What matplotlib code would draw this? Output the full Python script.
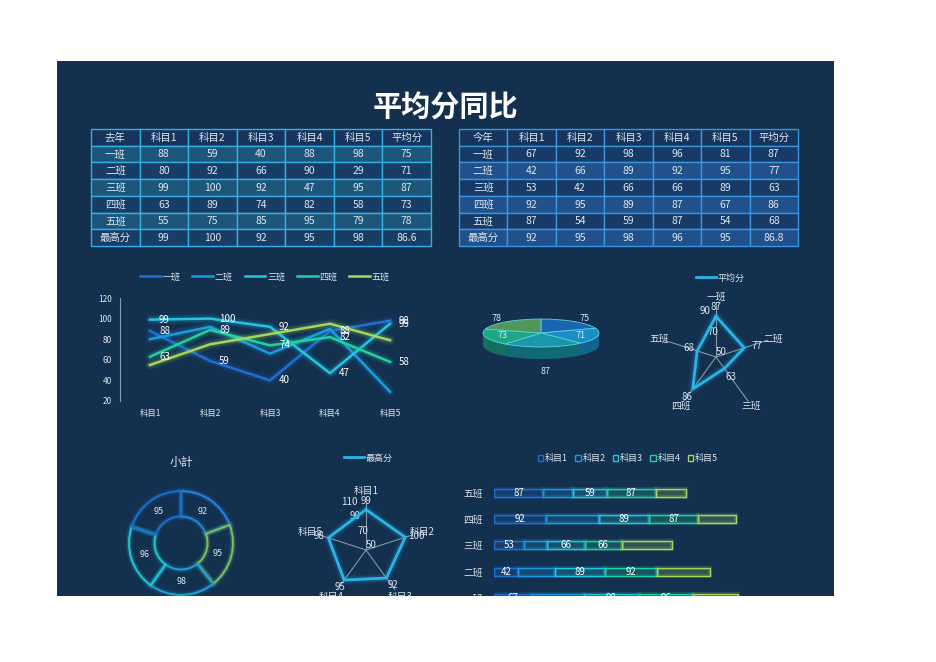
import numpy as np
import matplotlib
matplotlib.use('Agg')
import matplotlib.pyplot as plt
from matplotlib.patches import Rectangle, Patch
from matplotlib.lines import Line2D

plt.rcParams['font.family'] = ['Noto Sans CJK SC', 'DejaVu Sans']

# ---- data ----
classes = ['一班', '二班', '三班', '四班', '五班']
subjects = ['科目1', '科目2', '科目3', '科目4', '科目5']

last_year = [[88, 59, 40, 88, 98],
             [80, 92, 66, 90, 29],
             [99, 100, 92, 47, 95],
             [63, 89, 74, 82, 58],
             [55, 75, 85, 95, 79]]
last_avg = [75, 71, 87, 73, 78]
last_max = [99, 100, 92, 95, 98]
last_max_avg = '86.6'

this_year = [[67, 92, 98, 96, 81],
             [42, 66, 89, 92, 95],
             [53, 42, 66, 66, 89],
             [92, 95, 89, 87, 67],
             [87, 54, 59, 87, 54]]
this_avg = [87, 77, 63, 86, 68]
this_max = [92, 95, 98, 96, 95]
this_max_avg = '86.8'

# ---- style ----
W, H = 936, 662
NAVY = '#13304f'
TXT = '#dce6f0'
series_colors = ['#1f6fd0', '#1a9be0', '#22c6e0', '#22d0a0', '#a2d860']


def box(x0, y0, x1, y1):
    return [x0 / W, 1 - y1 / H, (x1 - x0) / W, (y1 - y0) / H]


def fxy(x, y):
    return (x / W, 1 - y / H)


fig = plt.figure(figsize=(W / 100, H / 100), dpi=100, facecolor='white')
fig.add_artist(Rectangle(fxy(57, 596), (834 - 57) / W, (596 - 61) / H,
                         transform=fig.transFigure, facecolor=NAVY, lw=0, zorder=-10))
fig.text(*fxy(445, 108), '平均分同比', fontsize=21, weight='bold', color='white',
         ha='center', va='center')


# ---- tables ----
def draw_table(x0, x1, corner, values, avg, top, top_avg, fills, edge):
    ax = fig.add_axes(box(x0, 129, x1, 246))
    ax.set_xlim(0, 7)
    ax.set_ylim(7, 0)
    ax.axis('off')
    header = [corner] + subjects + ['平均分']
    body = [[c] + [str(v) for v in row] + [str(a)] for c, row, a in zip(classes, values, avg)]
    body.append(['最高分'] + [str(v) for v in top] + [top_avg])
    for i, row in enumerate([header] + body):
        for j, txt in enumerate(row):
            ax.add_patch(Rectangle((j, i), 1, 1, facecolor=fills[i], edgecolor=edge,
                                   lw=1, clip_on=False))
            ax.text(j + 0.5, i + 0.52, txt, ha='center', va='center', fontsize=7.5, color=TXT)


draw_table(91, 431, '去年', last_year, last_avg, last_max, last_max_avg,
           ['#16345c', '#1d5679', '#183e66', '#1d5679', '#183e66', '#1d5679', '#183e66'], '#35aee6')
draw_table(459, 798, '今年', this_year, this_avg, this_max, this_max_avg,
           ['#16345c', '#183a66', '#22508a', '#183a66', '#22508a', '#183a66', '#22508a'], '#3a95e0')


def glow_plot(ax, x, y, color, lw=1.8, **kw):
    for w, a in [(7, 0.08), (4.5, 0.15)]:
        ax.plot(x, y, color=color, lw=w, alpha=a, solid_capstyle='round', solid_joinstyle='round')
    return ax.plot(x, y, color=color, lw=lw, **kw)


# ---- line chart ----
ax = fig.add_axes(box(120, 298, 420, 401))
ax.set_facecolor('none')
xs = np.arange(len(subjects))
for name, row, c in zip(classes, last_year, series_colors):
    glow_plot(ax, xs, row, c, label=name)
for idx in (0, 2, 3):
    for xi, v in zip(xs, last_year[idx]):
        ax.text(xi + 0.15, v, str(v), va='center', fontsize=7, color='white')
ax.set_xlim(-0.5, 4.5)
ax.set_ylim(20, 120)
ax.set_yticks(range(20, 121, 20))
ax.set_xticks(xs)
ax.set_xticklabels(subjects)
ax.tick_params(length=0, labelsize=6, colors=TXT, pad=6)
for s in ['top', 'right', 'bottom']:
    ax.spines[s].set_visible(False)
ax.spines['left'].set_color('#8a9ab0')
ax.spines['left'].set_linewidth(0.8)
handles = [Line2D([], [], color=c, lw=1.8) for c in series_colors]
ax.legend(handles, classes, loc='center', bbox_to_anchor=fxy(265, 277),
          bbox_transform=fig.transFigure, ncol=5, frameon=False, fontsize=6.5,
          labelcolor=TXT, handlelength=2.3, handletextpad=0.2, columnspacing=1.3)

# ---- 3D-ish pie ----
ax = fig.add_axes(box(483, 319, 599, 361))
ax.set_facecolor('none')
pie_top = ['#1a66b2', '#1b8ec8', '#1898a8', '#1fa684', '#4f985a']
pie_side = ['#134a82', '#12648c', '#106a76', '#13705c', '#34663e']
depth = 0.86
for k in np.linspace(-depth, -0.05, 14):
    ax.pie(last_avg, center=(0, k), startangle=90, counterclock=False, colors=pie_side,
           wedgeprops=dict(linewidth=0))
wedges, _ = ax.pie(last_avg, center=(0, 0), startangle=90, counterclock=False, colors=pie_top,
                   wedgeprops=dict(linewidth=0.6, edgecolor='#5fd0e0'))
ax.set_aspect('auto')
ax.set_xlim(-1, 1)
ax.set_ylim(-2.0, 1.0)
dist = [1.3, 0.7, 1.9, 0.7, 1.3]
for w, v, r in zip(wedges, last_avg, dist):
    ang = np.deg2rad((w.theta1 + w.theta2) / 2)
    x, y = r * np.cos(ang), r * np.sin(ang)
    if r > 1 and y < 0:
        y -= depth
    ax.text(x, y, str(v), ha='center', va='center', fontsize=6.5, color=TXT, clip_on=False)


# ---- radar helper ----
def radar(bx, values, labels, rmax, rticks, rlabel_pos, label_pad, offsets, legend_label, legend_xy):
    ax = fig.add_axes(bx, projection='polar')
    ax.set_facecolor('none')
    ax.set_theta_zero_location('N')
    ax.set_theta_direction(-1)
    th = np.linspace(0, 2 * np.pi, len(values), endpoint=False)
    tc = np.append(th, th[0])
    vc = np.append(values, values[0])
    glow_plot(ax, tc, vc, '#2ab4e8', lw=2)
    ax.set_ylim(50, rmax)
    ax.set_xticks(th)
    ax.set_xticklabels(labels, fontsize=7, color=TXT)
    ax.tick_params(axis='x', pad=label_pad)
    ax.set_rticks(rticks)
    ax.set_yticklabels([str(t) for t in rticks], fontsize=7, color=TXT)
    ax.set_rlabel_position(rlabel_pos)
    ax.yaxis.grid(False)
    ax.xaxis.grid(True, color='#8a96a6', lw=0.8)
    ax.spines['polar'].set_visible(False)
    for t, v, off in zip(th, values, offsets):
        ax.annotate(str(v), (t, v), xytext=off, textcoords='offset points',
                    ha='center', va='center', fontsize=7, color=TXT)
    ax.legend([Line2D([], [], color='#2ab4e8', lw=2)], [legend_label], loc='center',
              bbox_to_anchor=fxy(*legend_xy), bbox_transform=fig.transFigure,
              frameon=False, fontsize=6.5, labelcolor=TXT, handlelength=2.2, handletextpad=0.2)


radar(box(661, 302, 771, 412), this_avg, classes, 100, [50, 70, 90], -22, -7,
      [(0, 7), (9, 1), (5, -6), (-4, -6), (-6, 2)], '平均分', (720, 278))
radar(box(316.5, 500.5, 415.5, 599.5), last_max, subjects, 110, [50, 70, 90, 110], -30, -4,
      [(0, 6), (8, 1), (5, -5), (-3, -5), (-7, 1)], '最高分', (368, 458))

# ---- donut ----
ax = fig.add_axes(box(128, 490, 234, 596))
ax.set_facecolor('none')
ring_colors = ['#2a80d8', '#78c060', '#1f9fd0', '#22c4d0', '#1a6fc8']
for lw, a in [(5, 0.12), (3, 0.2)]:
    glow, _ = ax.pie(this_max, startangle=90, counterclock=False, colors=['none'] * 5,
                     wedgeprops=dict(width=0.49, linewidth=lw, alpha=a))
    for w, c in zip(glow, ring_colors):
        w.set_edgecolor(c)
        w.set_facecolor('none')
ring, _ = ax.pie(this_max, startangle=90, counterclock=False, colors=['none'] * 5,
                 wedgeprops=dict(width=0.49, linewidth=1.4))
for w, c in zip(ring, ring_colors):
    w.set_edgecolor(c)
    w.set_facecolor('none')
ax.set_xlim(-1.02, 1.02)
ax.set_ylim(-1.02, 1.02)
ax.set_aspect('equal')
for w, v in zip(ring, this_max):
    ang = np.deg2rad((w.theta1 + w.theta2) / 2)
    ax.text(0.74 * np.cos(ang), 0.74 * np.sin(ang), str(v), ha='center', va='center',
            fontsize=6.5, color=TXT)
fig.text(*fxy(181, 462), '小計', fontsize=8.5, color=TXT, ha='center', va='center')

# ---- stacked bars ----
ax = fig.add_axes(box(494, 477, 775.5, 611))
ax.set_facecolor('none')
ys = np.arange(len(classes))
left = np.zeros(len(classes))
for j, (sub, c) in enumerate(zip(subjects, series_colors)):
    vals = np.array([row[j] for row in this_year])
    ax.barh(ys, vals, left=left, height=0.3, facecolor='none', edgecolor=c, lw=3, alpha=0.18)
    ax.barh(ys, vals, left=left, height=0.3, facecolor=matplotlib.colors.to_rgba(c, 0.22),
            edgecolor=c, lw=1)
    if j in (0, 2, 3):
        for y, l, v in zip(ys, left, vals):
            ax.text(l + v / 2, y, str(v), ha='center', va='center', fontsize=7, color='white')
    left += vals
ax.set_xlim(0, 500)
ax.set_ylim(-0.5, 4.6)
ax.set_yticks(ys)
ax.set_yticklabels(classes)
ax.set_xticks([])
ax.tick_params(length=0, labelsize=7, colors=TXT, pad=8)
for s in ax.spines.values():
    s.set_visible(False)
ax.legend([Patch(facecolor='none', edgecolor=c, lw=1) for c in series_colors], subjects,
          loc='center', bbox_to_anchor=fxy(628, 459), bbox_transform=fig.transFigure,
          ncol=5, frameon=False, fontsize=6.5, labelcolor=TXT, handlelength=0.6,
          handleheight=0.6, handletextpad=0.2, columnspacing=0.8)

# sheet ends here
fig.add_artist(Rectangle((0, 0), 1, (H - 596) / H, transform=fig.transFigure,
                         facecolor='white', lw=0, zorder=100))

fig.savefig('out.png', dpi=100, facecolor='white')
